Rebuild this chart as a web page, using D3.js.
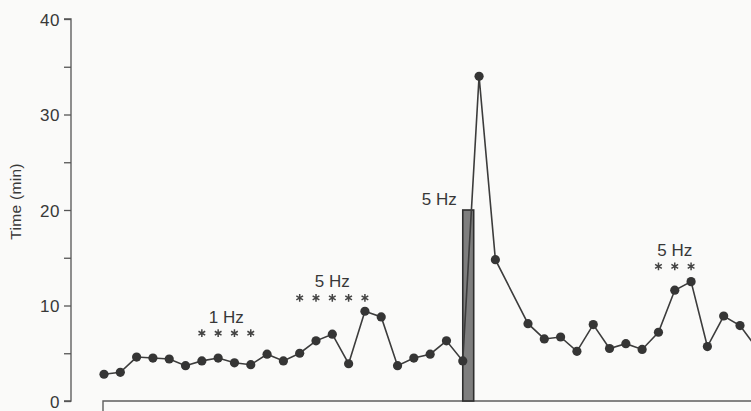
<!DOCTYPE html>
<html>
<head>
<meta charset="utf-8">
<script src="https://cdn.jsdelivr.net/npm/d3@7"></script>
<style>
  html, body { margin: 0; padding: 0; background: #fafaf9; }
  svg { display: block; }
  text { font-family: "Liberation Sans", Arial, Helvetica, sans-serif; fill: #383838; }
</style>
</head>
<body>
<svg id="chart" width="751" height="411"></svg>
<script>
// Sample index along the recording (one sample every interval; index 25 was not recorded)
const sampleIndex = [0, 1, 2, 3, 4, 5, 6, 7, 8, 9, 10, 11, 12, 13, 14, 15, 16, 17, 18, 19,
  20, 21, 22, 23, 24, 26, 27, 28, 29, 30, 31, 32, 33, 34, 35, 36, 37, 38, 39, 40];
// Time (min) measured at each sample
const timeMin = [2.8, 3.0, 4.6, 4.5, 4.4, 3.7, 4.2, 4.5, 4.0, 3.8, 4.9, 4.2, 5.0, 6.3, 7.0,
  3.9, 9.4, 8.8, 3.7, 4.5, 4.9, 6.3, 4.2, 34.0, 14.8, 8.1, 6.5, 6.7, 5.2, 8.0, 5.5, 6.0,
  5.4, 7.2, 11.6, 12.5, 5.7, 8.9, 7.9, 5.6];

// Conditioning stimulus train (start / end sample, height in min)
const stimLabel = "5 Hz";
const stimStart = 22;
const stimEnd = 22.67;
const stimValue = 20;

// Test-stimulation episodes marked with asterisks
const episodeLabels = ["1 Hz", "5 Hz", "5 Hz"];
const episodeSamples = [[6, 7, 8, 9], [12, 13, 14, 15, 16], [34, 35, 36]];
const episodeLevel = [7.1, 10.8, 14.1];

// Y axis ticks
const yMajorTicks = [0, 10, 20, 30, 40];
const yMinorTicks = [5, 15, 25, 35];
const yTitle = "Time (min)";

const svg = d3.select("#chart");
const W = 751, H = 411;

const x = d3.scaleLinear().domain([0, 39]).range([104, 740]);
const y = d3.scaleLinear().domain([0, 40]).range([401, 19]);

const ink = "#353535";

// Y axis
const axisG = svg.append("g").attr("transform", `translate(71,0)`);
const yAxis = d3.axisLeft(y)
  .tickValues(yMajorTicks.concat(yMinorTicks).sort(d3.ascending))
  .tickSize(7)
  .tickPadding(4)
  .tickFormat(d => yMajorTicks.includes(d) ? d : "");
axisG.call(yAxis);
axisG.attr("font-family", null);
axisG.select(".domain").attr("d", `M-7,${y(40)}H0V${y(0)}H-7`).attr("stroke", "#555").attr("stroke-width", 1.3);
axisG.selectAll(".tick line").attr("stroke", "#555").attr("stroke-width", 1.3);
axisG.selectAll(".tick text")
  .style("font-size", "17px")
  .style("letter-spacing", "0.6px")
  .attr("fill", "#383838")
  .attr("dy", "0.36em");

// Y title
svg.append("text")
  .attr("transform", `translate(21,${y(20.9)}) rotate(-90)`)
  .attr("text-anchor", "middle")
  .style("font-size", "15.5px")
  .style("letter-spacing", "0.3px")
  .text(yTitle);

// Baseline frame under the record
svg.append("path")
  .attr("d", `M${x(0) - 1},${H + 2}V${y(0)}H${W + 2}`)
  .attr("fill", "none")
  .attr("stroke", "#5e5e5e")
  .attr("stroke-width", 1.4);

// Stimulus bar
svg.append("rect")
  .attr("x", x(stimStart))
  .attr("y", y(stimValue))
  .attr("width", x(stimEnd) - x(stimStart))
  .attr("height", y(0) - y(stimValue))
  .attr("fill", "#7e7e7e")
  .attr("stroke", "#2e2e2e")
  .attr("stroke-width", 1.6);

svg.append("text")
  .attr("x", x(stimStart) - 6)
  .attr("y", y(stimValue) - 5)
  .attr("text-anchor", "end")
  .style("font-size", "17px")
  .text(stimLabel);

// Connecting line
const pts = sampleIndex.map((s, i) => ({ s, v: timeMin[i] }));
svg.append("path")
  .datum(pts)
  .attr("d", d3.line().x(d => x(d.s)).y(d => y(d.v)))
  .attr("fill", "none")
  .attr("stroke", "#3c3c3c")
  .attr("stroke-width", 1.6);

// Data points
svg.append("g")
  .selectAll("circle")
  .data(pts)
  .join("circle")
  .attr("cx", d => x(d.s))
  .attr("cy", d => y(d.v))
  .attr("r", 4.6)
  .attr("fill", ink);

// Episode annotations: asterisk over each test sample, frequency label above
const star = d3.symbol().type(d3.symbolAsterisk).size(42);
episodeLabels.forEach((lab, k) => {
  const samples = episodeSamples[k];
  const cy = y(episodeLevel[k]);
  const cx = d3.mean(samples, s => x(s));
  svg.append("g")
    .selectAll("path")
    .data(samples)
    .join("path")
    .attr("transform", s => `translate(${x(s)},${cy})`)
    .attr("d", star)
    .attr("fill", "none")
    .attr("stroke", "#444")
    .attr("stroke-width", 1.5);
  svg.append("text")
    .attr("x", cx)
    .attr("y", cy - 10.5)
    .attr("text-anchor", "middle")
    .style("font-size", "17px")
    .text(lab);
});
</script>
</body>
</html>
